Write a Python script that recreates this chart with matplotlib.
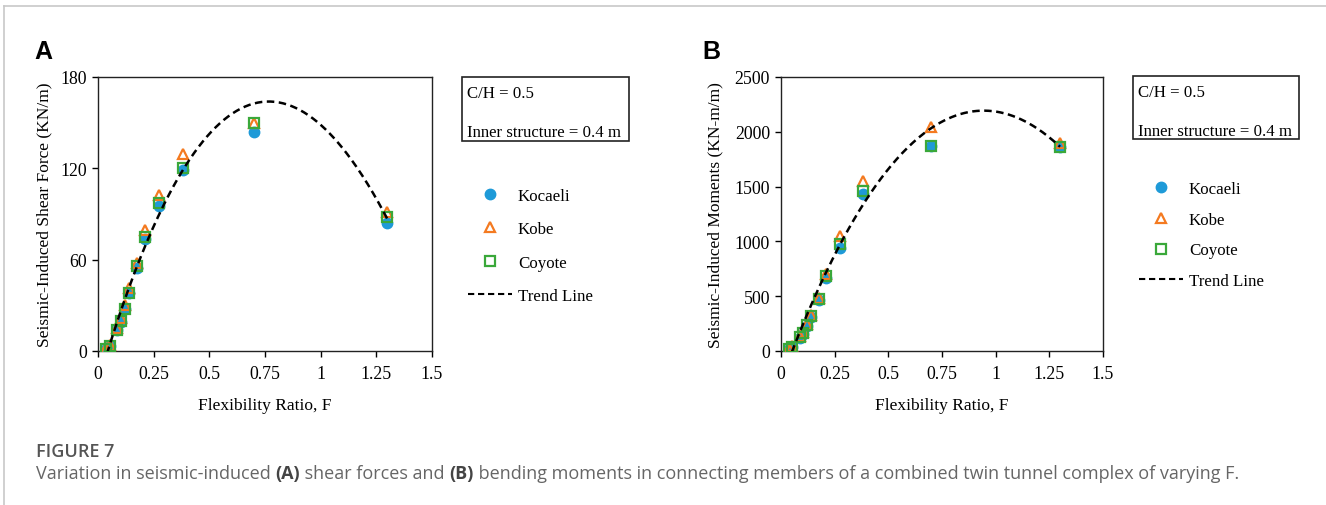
import numpy as np
import matplotlib
matplotlib.use("Agg")
from matplotlib import pyplot as plt
from matplotlib.lines import Line2D
import matplotlib.patches as patches

# flexibility ratio F for every run
x_ratio = [0.035, 0.052, 0.087, 0.102, 0.123, 0.141, 0.175, 0.21, 0.275, 0.38, 0.70, 1.30]

# (A) shear force, KN/m
shear_kocaeli = [1.5, 3.5, 13.5, 19.0, 27.3, 38.0, 54.3, 73.3, 95.0, 118.7, 144.0, 84.4]
shear_kobe = [2.0, 4.0, 15.0, 21.6, 30.3, 41.7, 57.8, 79.2, 102.5, 129.6, 150.0, 91.4]
shear_coyote = [1.5, 3.5, 14.0, 19.4, 27.3, 38.0, 56.0, 75.0, 97.0, 120.4, 149.5, 88.0]

# (B) bending moment, KN-m/m
moment_kocaeli = [20, 40, 118, 158, 227, 309, 461, 667, 942, 1430, 1873, 1864]
moment_kobe = [25, 45, 133, 173, 242, 330, 482, 703, 1045, 1548, 2042, 1900]
moment_coyote = [20, 40, 127, 167, 233, 321, 473, 682, 973, 1460, 1873, 1858]

# trend line
trend_x_shear = [0.04, 0.1, 0.21, 0.3, 0.38, 0.5, 0.6, 0.78, 0.9, 1.0, 1.1, 1.2, 1.3]
trend_shear = [0, 19, 72, 102, 119, 139, 153, 163.6, 159.7, 151, 133.5, 110.6, 86.6]
trend_x_moment = [0.05, 0.21, 0.275, 0.38, 0.5, 0.7, 0.96, 1.1, 1.3]
trend_moment = [0, 688, 960, 1370, 1658, 2021, 2197, 2127, 1864]

x_ticks = [0, 0.25, 0.5, 0.75, 1, 1.25, 1.5]
x_ticklabels = ["0", "0.25", "0.5", "0.75", "1", "1.25", "1.5"]
shear_ticks = [0, 60, 120, 180]
moment_ticks = [0, 500, 1000, 1500, 2000, 2500]

note_lines = ["C/H = 0.5", "Inner structure = 0.4 m"]

c_blue = "#1E9AD8"
c_orange = "#F47A20"
c_green = "#3AA83A"
serif = "Liberation Serif"

W, H = 1326, 506
fig = plt.figure(figsize=(W / 100, H / 100), dpi=100)
fig.patch.set_facecolor("white")


def fx(px):
    return px / W


def fy(py):
    return 1 - py / H


def trend(tx, ty):
    coef = np.polyfit(tx, ty, 3)
    xl = np.linspace(min(tx), max(tx), 200)
    return xl, np.polyval(coef, xl)


def panel(rect, ys, tx, ty, yticks, ylabel, ylpad):
    ax = fig.add_axes(rect)
    x = np.array(x_ratio)
    xl, yl = trend(tx, ty)
    ax.plot(x, ys[0], "o", color=c_blue, ms=7.5, zorder=3)
    ax.plot(x, ys[1], "^", mfc="none", mec=c_orange, mew=1.6, ms=7.8, zorder=4)
    ax.plot(x, ys[2], "s", mfc="none", mec=c_green, mew=1.6, ms=7.5, zorder=5)
    ax.plot(xl, yl, "--", color="black", lw=1.8, dashes=(3, 1.8), zorder=6)
    ax.set_xlim(0, 1.5)
    ax.set_ylim(yticks[0], yticks[-1])
    ax.set_xticks(x_ticks)
    ax.set_xticklabels(x_ticklabels)
    ax.set_yticks(yticks)
    ax.tick_params(direction="out", length=4, width=1, labelsize=12.8, pad=4)
    ax.tick_params(axis="x", pad=6)
    for lab in ax.get_xticklabels() + ax.get_yticklabels():
        lab.set_fontfamily(serif)
    for s in ax.spines.values():
        s.set_linewidth(1.0)
        s.set_color("#222222")
    ax.set_xlabel("Flexibility Ratio, F", fontsize=12.5, family=serif, labelpad=11)
    ax.set_ylabel(ylabel, fontsize=12.5, family=serif, labelpad=ylpad)
    return ax


axA = panel([fx(98), fy(352), fx(432 - 98), (352 - 78) / H],
            [shear_kocaeli, shear_kobe, shear_coyote], trend_x_shear, trend_shear,
            shear_ticks, "Seismic-Induced Shear Force (KN/m)", 6)
axB = panel([fx(781), fy(352), fx(1103 - 781), (352 - 78) / H],
            [moment_kocaeli, moment_kobe, moment_coyote], trend_x_moment, trend_moment,
            moment_ticks, "Seismic-Induced Moments (KN-m/m)", 8)

fig.text(fx(34), fy(59), "A", fontsize=18, fontweight="bold", family="Liberation Sans", va="baseline")
fig.text(fx(702), fy(59), "B", fontsize=18, fontweight="bold", family="Liberation Sans", va="baseline")


def note_box(x0, x1, y0, y1):
    fig.add_artist(patches.Rectangle((fx(x0), fy(y1)), fx(x1 - x0), (y1 - y0) / H,
                                     transform=fig.transFigure, fill=False,
                                     edgecolor="#222222", lw=1.2))
    fig.text(fx(x0 + 5), fy(y0 + 16), note_lines[0], fontsize=12.1, family=serif, va="center")
    fig.text(fx(x0 + 5), fy(y0 + 55), note_lines[1], fontsize=12.1, family=serif, va="center")


note_box(462, 629, 78, 142)
note_box(1133, 1299, 77, 140)

handles = [
    Line2D([], [], ls="none", marker="o", color=c_blue, ms=7.5),
    Line2D([], [], ls="none", marker="^", mfc="none", mec=c_orange, mew=1.6, ms=7.8),
    Line2D([], [], ls="none", marker="s", mfc="none", mec=c_green, mew=1.6, ms=7.5),
    Line2D([], [], ls="--", color="black", lw=1.5, dashes=(3, 1.8)),
]
labels = ["Kocaeli", "Kobe", "Coyote", "Trend Line"]

for (x0, ytop, sp) in [(468, 189, 1.02), (1139, 182, 0.87)]:
    leg = fig.legend(handles, labels, loc="upper left", bbox_to_anchor=(fx(x0), fy(ytop)),
                     frameon=False, borderpad=0, borderaxespad=0, handlelength=2.6,
                     handletextpad=0.35, labelspacing=sp,
                     prop={"family": serif, "size": 12.2})

# page frame lines
fig.add_artist(Line2D([fx(4), 1], [fy(7), fy(7)], color="#c8c8c8", lw=1.2, transform=fig.transFigure))
fig.add_artist(Line2D([fx(4), fx(4)], [fy(7), 0], color="#c8c8c8", lw=1.2, transform=fig.transFigure))

# caption
cap_font = "Open Sans"
fig.text(fx(36), fy(452), "FIGURE 7", fontsize=13, fontweight="semibold", family=cap_font,
         color="#555555", va="center")
parts = [("Variation in seismic-induced ", "normal"), ("(A)", "bold"),
         (" shear forces and ", "normal"), ("(B)", "bold"),
         (" bending moments in connecting members of a combined twin tunnel complex of varying F.", "normal")]
prev = fig.text(fx(36), fy(479), parts[0][0], fontsize=13, family=cap_font, color="#666666",
                va="baseline")
for s, w in parts[1:]:
    prev = axA.annotate(s, xy=(1, 0), xycoords=prev, va="bottom", ha="left",
                        fontsize=13, family=cap_font, fontweight=w,
                        color="#444444" if w == "bold" else "#666666",
                        annotation_clip=False)

fig.savefig("out.png", dpi=100)
